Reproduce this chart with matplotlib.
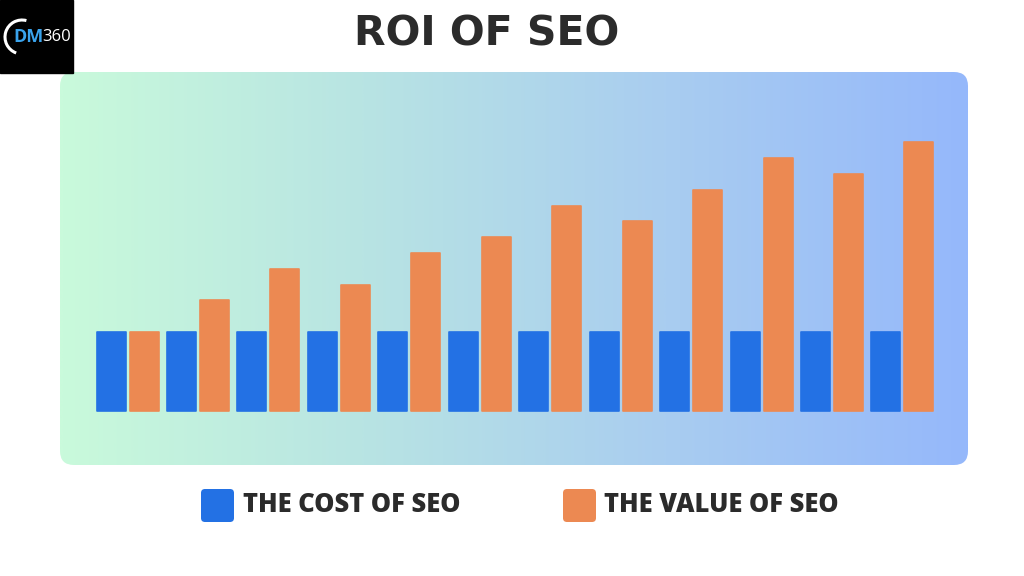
import numpy as np
import matplotlib
matplotlib.use("Agg")
import matplotlib.pyplot as plt
from matplotlib.patches import FancyBboxPatch, Arc
from matplotlib.colors import LinearSegmentedColormap

# ROI of SEO: cost stays flat, value grows
periods = np.arange(12)
cost_of_seo = [5, 5, 5, 5, 5, 5, 5, 5, 5, 5, 5, 5]
value_of_seo = [5, 7, 9, 8, 10, 11, 13, 12, 14, 16, 15, 17]
series_labels = ["THE COST OF SEO", "THE VALUE OF SEO"]
title = "ROI OF SEO"

BLUE = "#2371e4"
ORANGE = "#ec8952"
DARK = "#2b2b2b"
FONT = ["Open Sans", "DejaVu Sans"]

W, H = 1024, 576
fig = plt.figure(figsize=(W / 100, H / 100), dpi=100)
fig.patch.set_facecolor("white")

# background/decoration layer in pixel coordinates
bg = fig.add_axes([0, 0, 1, 1])
bg.set_xlim(0, W)
bg.set_ylim(H, 0)
bg.axis("off")

# gradient panel with rounded corners
px0, px1, py0, py1 = 60, 968, 72, 465
panel = FancyBboxPatch((px0, py0), px1 - px0, py1 - py0,
                       boxstyle="round,pad=0,rounding_size=14",
                       facecolor="none", edgecolor="none")
bg.add_patch(panel)
cmap = LinearSegmentedColormap.from_list(
    "panel", ["#c9fadb", "#b8e4e3", "#a9cdf0", "#95b8fb"])
grad = np.linspace(0, 1, 512).reshape(1, -1)
im = bg.imshow(grad, cmap=cmap, aspect="auto",
               extent=(px0, px1, py1, py0), zorder=1)
im.set_clip_path(panel)

# logo
bg.add_patch(plt.Rectangle((0, 0), 73, 73, color="black", zorder=2))
bg.add_patch(Arc((22, 37), 34, 34, theta1=110, theta2=285,
                 color="white", lw=2.2, zorder=3))
bg.text(13, 37, "DM", color="#3aa3ec", fontsize=13, fontweight="bold",
        family=FONT, va="center", ha="left", zorder=4)
bg.text(42, 37, "360", color="white", fontsize=12,
        family=FONT, va="center", ha="left", zorder=4)

# title
bg.text(487, 35, title, color=DARK, fontsize=29.5, fontweight="bold",
        family="DejaVu Sans", ha="center", va="center")

# legend
for (sx, tx), lab, col in zip([(201, 243), (563, 604)], series_labels, [BLUE, ORANGE]):
    bg.add_patch(FancyBboxPatch((sx, 489), 33, 33,
                                boxstyle="round,pad=0,rounding_size=4",
                                facecolor=col, edgecolor="none"))
    bg.text(tx, 505, lab, color=DARK, fontsize=18.4, fontweight="heavy",
            family=FONT, ha="left", va="center")

# bar chart axes over the panel
ax = fig.add_axes([px0 / W, 1 - py1 / H, (px1 - px0) / W, (py1 - py0) / H])
ax.patch.set_alpha(0)
ax.axis("off")
step = 70.45
ax.set_xlim((px0 - 127.5) / step, (px1 - 127.5) / step)
scale = 15.8
ax.set_ylim(-(py1 - 411) / scale, (411 - py0) / scale)

bw = 29 / step
off = 16.5 / step
kw = dict(width=bw, linewidth=1.2, joinstyle="round")
ax.bar(periods - off, cost_of_seo, color=BLUE, edgecolor=BLUE, **kw)
ax.bar(periods + off, value_of_seo, color=ORANGE, edgecolor=ORANGE, **kw)

fig.savefig("out.png", dpi=100)
